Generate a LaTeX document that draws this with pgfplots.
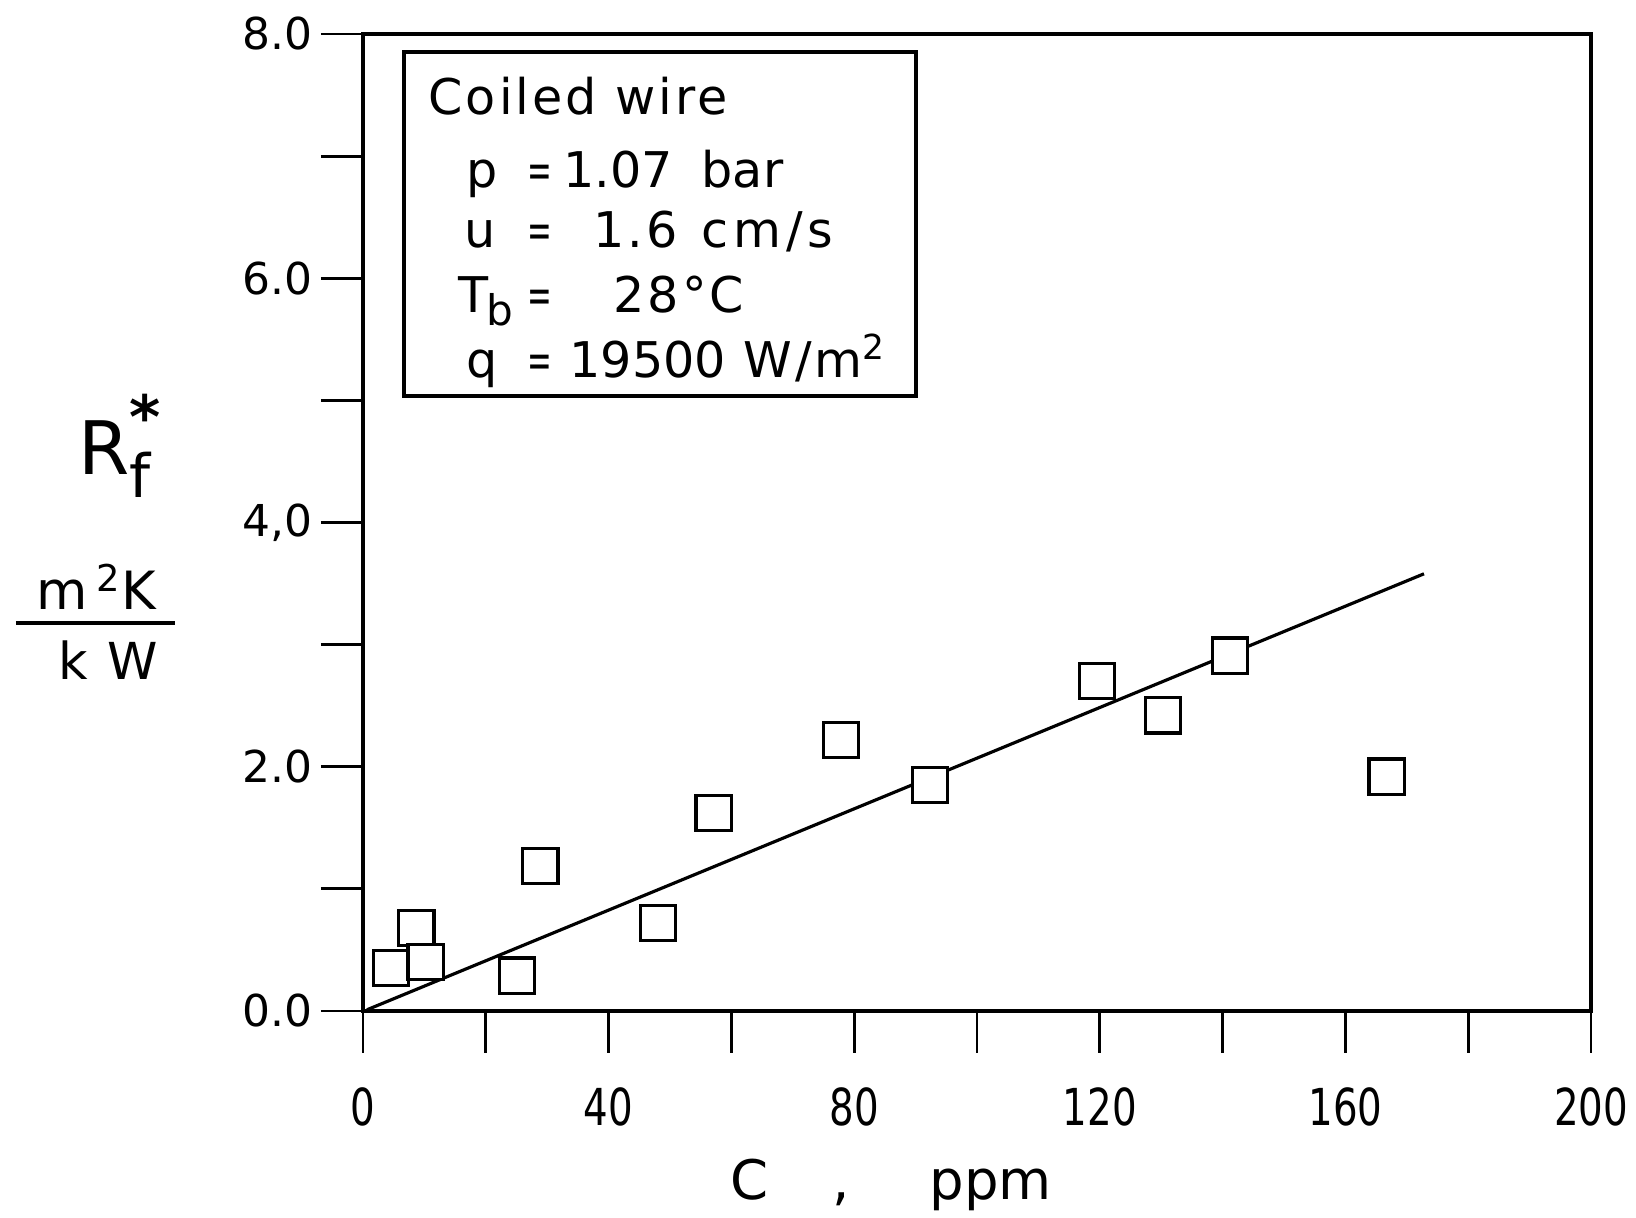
\documentclass[border=0pt]{standalone}
\usepackage{pgfplots}
\pgfplotsset{compat=1.18}
\usepackage{fontspec}
\setmainfont{DejaVu Sans}
\newfontfamily\spaced[LetterSpace=6]{DejaVu Sans}
\newfontfamily\wide[LetterSpace=10]{DejaVu Sans}
\newfontfamily\plain{DejaVu Sans}
\newcommand{\nx}[1]{\scalebox{.76}[1]{#1}}
\newcommand{\eq}{\scalebox{.6}[1]{=}}

\begin{document}
\begin{tikzpicture}
% page size: 1 px of the 1636x1218 reference = 0.01 cm
\useasboundingbox (-3.63,-2.07) rectangle (12.73,10.11);
\begin{axis}[
    at={(0,0)}, anchor=south west,
    scale only axis,
    width=12.28cm, height=9.77cm,
    xmin=0, xmax=200, ymin=0, ymax=8,
    axis line style={line width=1pt},
    xtick={0,20,...,200},
    xticklabels={\nx{0},,\nx{40},,\nx{80},,\nx{120},,\nx{160},,\nx{200}},
    ytick={0,1,...,8},
    yticklabels={0.0,,2.0,,{4,0},,6.0,,8.0},
    xtick pos=bottom, ytick pos=left,
    tick align=outside,
    major tick length=0.42cm,
    tick style={line width=0.8pt, black},
    xticklabel style={font=\fontsize{14.5}{14.5}\selectfont, anchor=north, yshift=-0.22cm},
    yticklabel style={font=\fontsize{12.5}{12.5}\selectfont, anchor=east, xshift=0.04cm},
    clip=false,
]
% fitted line
\addplot[black, line width=0.9pt] coordinates {(0.65,0.01) (172.8,3.58)};
% measured fouling resistance
\addplot[only marks, mark=square*, mark size=5pt,
    mark options={draw=black, fill=white, line width=0.9pt}]
    coordinates {
    (8.7,0.68) (4.6,0.35) (10.2,0.40) (25.1,0.29) (28.9,1.19)
    (48.1,0.72) (57.1,1.62) (77.8,2.22) (92.4,1.85) (119.5,2.70)
    (130.3,2.42) (141.2,2.91) (166.7,1.92)};
\end{axis}

% info box
\draw[line width=0.9pt] (0.41,6.15) rectangle (5.53,9.59);
\begin{scope}[every node/.style={anchor=base west, inner sep=0pt, font=\spaced\fontsize{14}{14}\selectfont}]
\node at (0.65,8.96) {Coiled wire};
\node at (1.03,8.23) {p};  \node at (1.64,8.23) {\eq}; \node[font=\plain\fontsize{14}{14}\selectfont] at (2.00,8.23) {1.07}; \node[font=\plain\fontsize{14}{14}\selectfont] at (3.38,8.23) {bar};
\node at (1.01,7.63) {u};  \node at (1.64,7.63) {\eq}; \node at (2.30,7.63) {1.6};  \node[font=\wide\fontsize{14}{14}\selectfont] at (3.38,7.63) {cm/s};
\node at (0.95,6.98) {T\kern-0.05em\raisebox{-0.45ex}{\fontsize{12}{12}\selectfont b}}; \node at (1.64,6.98) {\eq}; \node at (2.50,6.98) {28°C};
\node at (1.03,6.33) {q};  \node at (1.64,6.33) {\eq}; \node[font=\plain\fontsize{14}{14}\selectfont] at (2.06,6.33) {19500}; \node at (3.80,6.33) {W/m\textsuperscript{2}};
\end{scope}

% y label
\node[anchor=base west, inner sep=0pt, font=\fontsize{21}{21}\selectfont] at (-2.85,5.36)
    {R\rlap{\raisebox{0.5em}{\fontsize{17}{17}\selectfont\bfseries *}}\raisebox{-0.3em}{\fontsize{17}{17}\selectfont f}};
\node[anchor=base, inner sep=0pt, font=\spaced\fontsize{15}{15}\selectfont] at (-2.67,4.01) {m\,\textsuperscript{2}K};
\draw[line width=0.9pt] (-3.47,3.88) -- (-1.88,3.88);
\node[anchor=base, inner sep=0pt, font=\spaced\fontsize{14.5}{14.5}\selectfont] at (-2.55,3.31) {k W};

% x label
\begin{scope}[every node/.style={anchor=base west, inner sep=0pt, font=\fontsize{15.5}{15.5}\selectfont}]
\node at (3.67,-1.89) {C};
\node at (4.69,-1.89) {,};
\node at (5.66,-1.89) {ppm};
\end{scope}
\end{tikzpicture}
\end{document}
